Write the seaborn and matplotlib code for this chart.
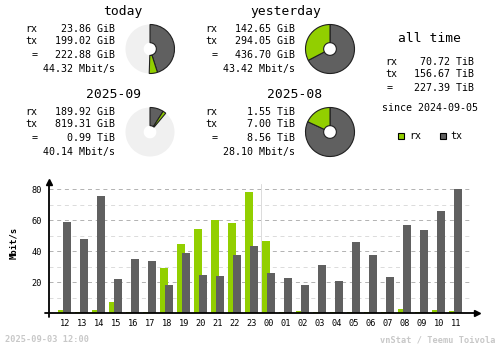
import numpy as np
import pandas as pd
import matplotlib
matplotlib.use("Agg")
import matplotlib.pyplot as plt
import seaborn as sns
from matplotlib.lines import Line2D
from matplotlib.patches import Rectangle

# ---------------- data ----------------
hours = ["12", "13", "14", "15", "16", "17", "18", "19", "20", "21", "22", "23",
         "00", "01", "02", "03", "04", "05", "06", "07", "08", "09", "10", "11"]
rx_mbit = [2.1, 0.9, 2.1, 7.3, 0.9, 0.9, 29.2, 44.7, 54.4, 59.8, 58.3, 78.3,
           46.7, 0.9, 1.5, 0.9, 0.9, 0.9, 0.9, 0.9, 2.8, 0.9, 2.1, 1.5]
tx_mbit = [58.9, 48.0, 75.7, 22.2, 35.0, 33.8, 18.3, 38.9, 24.7, 24.1, 37.6, 43.4,
           26.0, 22.8, 18.3, 31.2, 20.9, 46.0, 37.6, 23.4, 57.0, 53.8, 66.0, 80.2]

block_titles = ["today", "yesterday", "2025-09", "2025-08"]
block_rx = [23.86, 142.65, 189.92, 1.55 * 1024]      # GiB
block_tx = [199.02, 294.05, 819.31, 7.00 * 1024]     # GiB
block_rx_txt = ["23.86 GiB", "142.65 GiB", "189.92 GiB", "1.55 TiB"]
block_tx_txt = ["199.02 GiB", "294.05 GiB", "819.31 GiB", "7.00 TiB"]
block_tot_txt = ["222.88 GiB", "436.70 GiB", "0.99 TiB", "8.56 TiB"]
block_rate_txt = ["44.32 Mbit/s", "43.42 Mbit/s", "40.14 Mbit/s", "28.10 Mbit/s"]
block_fill = [0.505, 1.0, 0.111, 1.0]

alltime_rx_txt = "70.72 TiB"
alltime_tx_txt = "156.67 TiB"
alltime_tot_txt = "227.39 TiB"
since_txt = "since 2024-09-05"
stamp_txt = "2025-09-03 12:00"
credit_txt = "vnStat / Teemu Toivola"

RX_C = "#92cf00"
TX_C = "#606060"
BG_PIE = "#f0f0f0"
EDGE = "#202020"

# ---------------- figure ----------------
W, H = 500, 348
sns.set_theme(style="white")
plt.rcParams['font.family'] = ['DejaVu Sans Mono']
fig = plt.figure(figsize=(W / 100, H / 100), dpi=100)
fig.patch.set_facecolor("white")


def fx(x):
    return x / W


def fy(y):
    return 1 - y / H


def txt(x, y, s, ha="left", size=7.2, **kw):
    fig.text(fx(x), fy(y), s, ha=ha, va="center", fontsize=size, color="black", **kw)


# ---------------- summary blocks ----------------
block_pos = [(0, 0), (180, 0), (0, 83), (180, 83)]
title_cx = [122.5, 285.5, 114, 294.5]
for i, (dx, dy) in enumerate(block_pos):
    txt(title_cx[i], 12 + dy, block_titles[i], ha="center", size=9.4)
    txt(25 + dx, 29 + dy, "rx")
    txt(25 + dx, 41 + dy, "tx")
    txt(34.7 + dx, 55 + dy, "=", ha="center")
    txt(115 + dx, 29 + dy, block_rx_txt[i], ha="right")
    txt(115 + dx, 41 + dy, block_tx_txt[i], ha="right")
    txt(115 + dx, 55 + dy, block_tot_txt[i], ha="right")
    txt(115 + dx, 69 + dy, block_rate_txt[i], ha="right")

    # donut
    cx, cy, r = 150 + dx, 49 + dy, 24.5
    pax = fig.add_axes([fx(cx - r - 1), fy(cy + r + 1), (2 * r + 2) / W, (2 * r + 2) / H])
    lim = (r + 1) / r
    pax.set_xlim(-lim, lim)
    pax.set_ylim(-lim, lim)
    pax.set_aspect("equal")
    pax.axis("off")
    hole_w = 1 - 6.3 / 24.3
    pax.pie([1], colors=[BG_PIE], radius=1, startangle=90,
            wedgeprops=dict(width=hole_w, linewidth=0))
    tot = block_rx[i] + block_tx[i]
    f = block_fill[i]
    parts = [f * block_tx[i] / tot, f * block_rx[i] / tot, max(1 - f, 1e-9)]
    wedges, _ = pax.pie(parts, colors=[TX_C, RX_C, "white"], radius=1, startangle=90,
                        counterclock=False, normalize=True,
                        wedgeprops=dict(width=hole_w, edgecolor=EDGE, linewidth=0.8))
    wedges[2].set_visible(False)
    pax.set_xlim(-lim, lim)
    pax.set_ylim(-lim, lim)

# ---------------- all time ----------------
txt(429, 39, "all time", ha="center", size=9.4)
txt(385, 62, "rx")
txt(385, 74, "tx")
txt(389.5, 88, "=", ha="center")
txt(474, 62, alltime_rx_txt, ha="right")
txt(474, 74, alltime_tx_txt, ha="right")
txt(474, 88, alltime_tot_txt, ha="right")
txt(429.5, 108, since_txt, ha="center")

# legend
fig.add_artist(Rectangle((fx(398), fy(139)), 6 / W, 6 / H, facecolor=RX_C,
                         edgecolor="black", linewidth=0.8, transform=fig.transFigure))
txt(409, 136, "rx")
fig.add_artist(Rectangle((fx(440), fy(139)), 6 / W, 6 / H, facecolor=TX_C,
                         edgecolor="black", linewidth=0.8, transform=fig.transFigure))
txt(450, 136, "tx")

# ---------------- hourly bar chart ----------------
ax = fig.add_axes([fx(49), fy(313), (473 - 49) / W, (313 - 181) / H])
idx = np.arange(len(hours))
df_rx = pd.DataFrame({"pos": idx - 0.18, "val": rx_mbit})
df_tx = pd.DataFrame({"pos": idx + 0.12, "val": tx_mbit})

ax.set_ylim(0, 85.3)
for y in [10, 30, 50, 70]:
    ax.axhline(y, color="#dcdcdc", lw=0.72, ls=(0, (4, 3.7)), zorder=0)
for y in [20, 40, 60, 80]:
    ax.axhline(y, color="#b4b4b4", lw=0.72, ls=(0, (4, 3.7)), zorder=0)
ax.axvline(11.5, color="#dcdcdc", lw=0.72, ymax=(85.3 - 2) / 85.3, zorder=0)

sns.barplot(data=df_rx, x="pos", y="val", native_scale=True, width=0.47,
            color=RX_C, saturation=1, errorbar=None, linewidth=0, ax=ax, zorder=2)
sns.barplot(data=df_tx, x="pos", y="val", native_scale=True, width=0.47,
            color=TX_C, saturation=1, errorbar=None, linewidth=0, ax=ax, zorder=3)

ax.set_xlim(-16 / 17, 24)
ax.set_ylim(0, 85.3)
ax.set_xticks(idx)
ax.set_xticklabels(hours, fontsize=6.2)
ax.set_yticks([20, 40, 60, 80])
ax.set_yticklabels(["20", "40", "60", "80"], fontsize=6.2)
ax.tick_params(axis="both", length=0, colors="black")
ax.tick_params(axis="x", pad=4.2)
ax.tick_params(axis="y", pad=5)
ax.set_xlabel("")
ax.set_ylabel("")
for s in ax.spines.values():
    s.set_visible(False)
ax.patch.set_alpha(0)

fig.text(fx(14), fy(243), "Mbit/s", rotation=90, ha="center", va="center",
         fontsize=6.4, fontweight="bold", color="black")

# axes lines with arrows
fig.add_artist(Line2D([fx(45), fx(476)], [fy(313), fy(313)], color="black", lw=1.3,
                      transform=fig.transFigure))
fig.add_artist(Line2D([fx(477)], [fy(313)], marker=">", ms=4.5, color="black",
                      transform=fig.transFigure))
fig.add_artist(Line2D([fx(49), fx(49)], [fy(317), fy(183)], color="black", lw=1.3,
                      transform=fig.transFigure))
fig.add_artist(Line2D([fx(49)], [fy(182)], marker="^", ms=4.5, color="black",
                      transform=fig.transFigure))

# footer
fig.text(fx(5), fy(340), stamp_txt, ha="left", va="center", fontsize=6.2,
         color="#c8c8c8", fontweight="bold")
fig.text(fx(495), fy(340), credit_txt, ha="right", va="center", fontsize=6.2,
         color="#c8c8c8", fontweight="bold")

fig.savefig("out.png", dpi=100, facecolor="white")
